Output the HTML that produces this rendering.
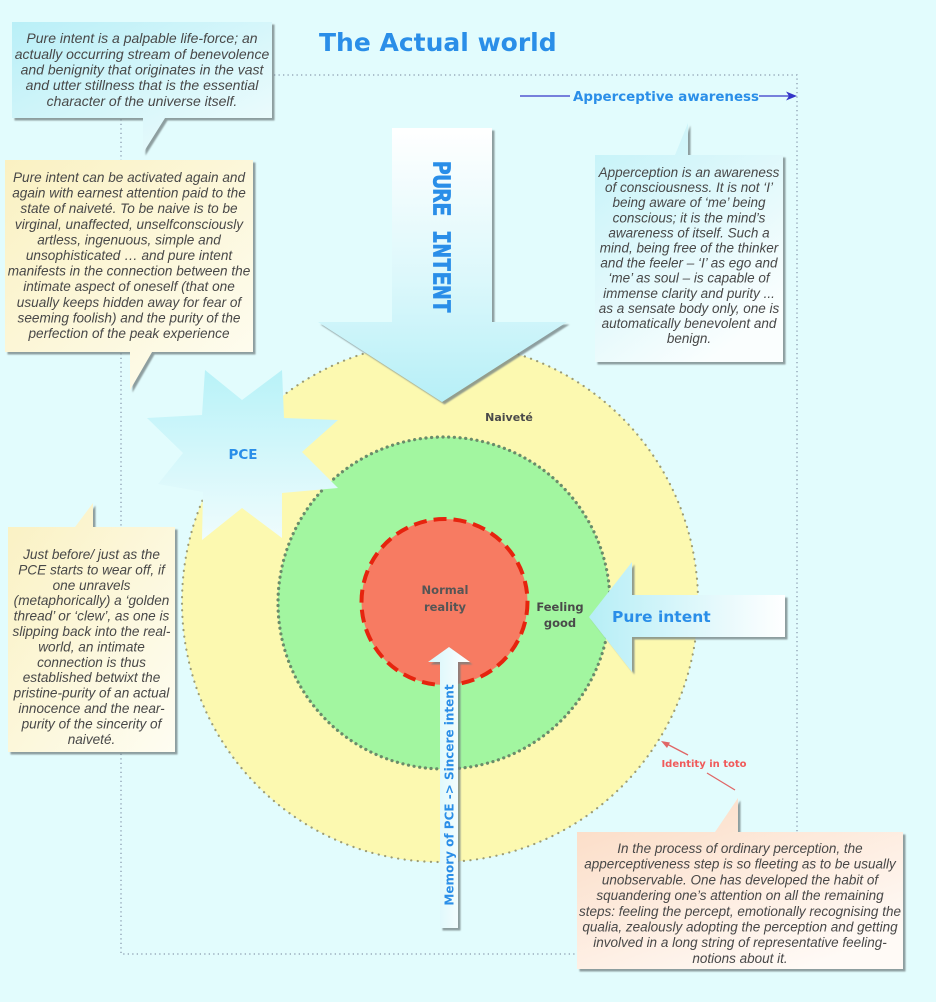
<!DOCTYPE html>
<html>
<head>
<meta charset="utf-8">
<style>
  html,body{margin:0;padding:0;background:#e2fcfd;}
  svg{display:block;}
  .it{font-family:"Liberation Sans",Arial,sans-serif;font-style:italic;fill:#484848;text-anchor:middle;}
  .bd{font-family:"DejaVu Sans",Verdana,"Liberation Sans",sans-serif;font-weight:bold;}
</style>
</head>
<body>
<svg width="936" height="1002" viewBox="0 0 936 1002" xmlns="http://www.w3.org/2000/svg">
  <defs>
    <filter id="sh" x="-10%" y="-10%" width="130%" height="130%">
      <feDropShadow dx="2.5" dy="2.5" stdDeviation="0.8" flood-color="#6f7f80" flood-opacity="0.75"/>
    </filter>
    <linearGradient id="gCyan" x1="0" y1="0" x2="1" y2="1">
      <stop offset="0" stop-color="#b9eff7"/>
      <stop offset="1" stop-color="#f2fdfd"/>
    </linearGradient>
    <linearGradient id="gCyan3" x1="0" y1="0" x2="0.6" y2="1">
      <stop offset="0" stop-color="#c2f2f8"/>
      <stop offset="1" stop-color="#fafefe"/>
    </linearGradient>
    <linearGradient id="gYel" x1="0" y1="0" x2="1" y2="1">
      <stop offset="0" stop-color="#faf1c2"/>
      <stop offset="1" stop-color="#fefdf2"/>
    </linearGradient>
    <linearGradient id="gPeach" x1="0" y1="0" x2="0.7" y2="1">
      <stop offset="0" stop-color="#fbdac2"/>
      <stop offset="1" stop-color="#fffaf6"/>
    </linearGradient>
    <linearGradient id="gDown" gradientUnits="userSpaceOnUse" x1="0" y1="128" x2="0" y2="402">
      <stop offset="0" stop-color="#ffffff"/>
      <stop offset="0.55" stop-color="#dcf8fb"/>
      <stop offset="1" stop-color="#b6eff7"/>
    </linearGradient>
    <linearGradient id="gLeft" gradientUnits="userSpaceOnUse" x1="589" y1="0" x2="785" y2="0">
      <stop offset="0" stop-color="#b6eef6"/>
      <stop offset="1" stop-color="#ffffff"/>
    </linearGradient>
    <linearGradient id="gUp" gradientUnits="userSpaceOnUse" x1="428" y1="0" x2="470" y2="0">
      <stop offset="0" stop-color="#d4f6fa"/>
      <stop offset="1" stop-color="#ffffff"/>
    </linearGradient>
    <linearGradient id="gStar" x1="0" y1="0" x2="0" y2="1">
      <stop offset="0" stop-color="#b8f2f8"/>
      <stop offset="1" stop-color="#effcfd"/>
    </linearGradient>
  </defs>

  <!-- background -->
  <rect x="0" y="0" width="936" height="1002" fill="#e2fcfd"/>

  <!-- dotted frame -->
  <rect x="121" y="75" width="676" height="879" fill="none" stroke="#8a9bb0" stroke-width="1.3" stroke-dasharray="1.3 3.2"/>

  <!-- circles -->
  <ellipse cx="440" cy="602" rx="258" ry="260" fill="#fcf9b0" stroke="#9c9c74" stroke-width="2.2" stroke-dasharray="0.1 6.5" stroke-linecap="round"/>
  <circle cx="444" cy="603" r="166" fill="#a2f6a0" stroke="#6a8c6a" stroke-width="3.2" stroke-dasharray="0.1 5.6" stroke-linecap="round"/>
  <circle cx="444.5" cy="602" r="83" fill="#f77b62" stroke="#e6240e" stroke-width="4" stroke-dasharray="13 7"/>

  <!-- PCE star -->
  <polygon points="205,370 242,400 282,370 284,418 338,420 302,452 338,488 282,493 282,538 242,508 202,540 203,492 158,484 183,453 147,418 202,415" fill="url(#gStar)"/>

  <!-- PURE INTENT down arrow -->
  <path d="M392,128 H492 V322 H567 L442,402 L318,322 H392 Z" fill="url(#gDown)" filter="url(#sh)"/>

  <!-- Pure intent left arrow -->
  <path d="M785,595 V637 H632 V672 L589,617 L632,562 V595 Z" fill="url(#gLeft)" filter="url(#sh)"/>

  <!-- Memory up arrow -->
  <path d="M440,928 V662 H428 L449,647 L470,662 H458 V928 Z" fill="url(#gUp)" filter="url(#sh)"/>

  <!-- labels -->
  <text class="bd" x="243" y="459" font-size="13.5" fill="#2a8ee8" text-anchor="middle">PCE</text>
  <text class="bd" x="509" y="421" font-size="11" fill="#4a4a4a" text-anchor="middle">Naiveté</text>
  <text class="bd" x="445" y="594" font-size="11.5" fill="#555555" text-anchor="middle">Normal</text>
  <text class="bd" x="445" y="611" font-size="11.5" fill="#555555" text-anchor="middle">reality</text>
  <text class="bd" x="560" y="611" font-size="11.5" fill="#4a4a4a" text-anchor="middle">Feeling</text>
  <text class="bd" x="560" y="627" font-size="11.5" fill="#4a4a4a" text-anchor="middle">good</text>
  <text class="bd" x="612" y="622" font-size="15.5" fill="#2a8ee8">Pure intent</text>

  <text transform="translate(442,237) rotate(90)" x="0" y="8.4" text-anchor="middle" font-family="'DejaVu Sans Mono','Liberation Mono',monospace" font-weight="bold" font-size="23" fill="#2a8ee8" stroke="#2a8ee8" stroke-width="0.8">PURE INTENT</text>

  <text class="bd" transform="translate(449,795) rotate(-90)" x="0" y="4.4" text-anchor="middle" font-size="12" fill="#2a8ee8">Memory of PCE -&gt; Sincere intent</text>

  <!-- Identity in toto -->
  <line x1="688" y1="755" x2="665" y2="743" stroke="#e06666" stroke-width="1.3"/>
  <polygon points="661,741 670,742.5 667,748" fill="#e06666"/>
  <line x1="707" y1="773" x2="735" y2="790" stroke="#e06666" stroke-width="1.3"/>
  <text class="bd" x="704" y="767" font-size="10" fill="#f05a5a" text-anchor="middle">Identity in toto</text>

  <!-- Callout 1 (top-left cyan) -->
  <path d="M12,22 H272 V118 H165 L143,153 V118 H12 Z" fill="url(#gCyan)" filter="url(#sh)"/>
  <g class="it" font-size="14">
    <text x="142" y="43">Pure intent is a palpable life-force; an</text>
    <text x="142" y="59">actually occurring stream of benevolence</text>
    <text x="142" y="74.5">and benignity that originates in the vast</text>
    <text x="142" y="90">and utter stillness that is the essential</text>
    <text x="142" y="106">character of the universe itself.</text>
  </g>

  <!-- Callout 2 (left yellow) -->
  <path d="M5,160 H253 V352 H152 L130,390 V352 H5 Z" fill="url(#gYel)" filter="url(#sh)"/>
  <g class="it" font-size="13.6">
    <text x="129" y="182">Pure intent can be activated again and</text>
    <text x="129" y="197.6">again with earnest attention paid to the</text>
    <text x="129" y="213.2">state of naiveté. To be naive is to be</text>
    <text x="129" y="228.8">virginal, unaffected, unselfconsciously</text>
    <text x="129" y="244.4">artless, ingenuous, simple and</text>
    <text x="129" y="260">unsophisticated … and pure intent</text>
    <text x="129" y="275.6">manifests in the connection between the</text>
    <text x="129" y="291.2">intimate aspect of oneself (that one</text>
    <text x="129" y="306.8">usually keeps hidden away for fear of</text>
    <text x="129" y="322.4">seeming foolish) and the purity of the</text>
    <text x="129" y="338">perfection of the peak experience</text>
  </g>

  <!-- Callout 3 (right cyan) -->
  <path d="M595,155 H675 L688,123 V155 H783 V362 H595 Z" fill="url(#gCyan3)" filter="url(#sh)"/>
  <g class="it" font-size="13.5">
    <text x="689" y="177">Apperception is an awareness</text>
    <text x="689" y="192.1">of consciousness. It is not ‘I’</text>
    <text x="689" y="207.2">being aware of ‘me’ being</text>
    <text x="689" y="222.3">conscious; it is the mind’s</text>
    <text x="689" y="237.4">awareness of itself. Such a</text>
    <text x="689" y="252.5">mind, being free of the thinker</text>
    <text x="689" y="267.6">and the feeler – ‘I’ as ego and</text>
    <text x="689" y="282.7">‘me’ as soul – is capable of</text>
    <text x="689" y="297.8">immense clarity and purity ...</text>
    <text x="689" y="312.9">as a sensate body only, one is</text>
    <text x="689" y="328">automatically benevolent and</text>
    <text x="689" y="343.1">benign.</text>
  </g>

  <!-- Callout 5 (bottom-left yellow) -->
  <path d="M8,527 H75 L93,503 V527 H175 V752 H8 Z" fill="url(#gYel)" filter="url(#sh)"/>
  <g class="it" font-size="13.6">
    <text x="91.5" y="559">Just before/ just as the</text>
    <text x="91.5" y="574.4">PCE starts to wear off, if</text>
    <text x="91.5" y="589.8">one unravels</text>
    <text x="91.5" y="605.2">(metaphorically) a ‘golden</text>
    <text x="91.5" y="620.6">thread’ or ‘clew’, as one is</text>
    <text x="91.5" y="636">slipping back into the real-</text>
    <text x="91.5" y="651.4">world, an intimate</text>
    <text x="91.5" y="666.8">connection is thus</text>
    <text x="91.5" y="682.2">established betwixt the</text>
    <text x="91.5" y="697.6">pristine-purity of an actual</text>
    <text x="91.5" y="713">innocence and the near-</text>
    <text x="91.5" y="728.4">purity of the sincerity of</text>
    <text x="91.5" y="743.8">naiveté.</text>
  </g>

  <!-- Callout 4 (bottom-right peach) -->
  <path d="M577,832 H715 L738,798 V832 H903 V969 H577 Z" fill="url(#gPeach)" filter="url(#sh)"/>
  <g class="it" font-size="13.5">
    <text x="740" y="853">In the process of ordinary perception, the</text>
    <text x="740" y="868.7">apperceptiveness step is so fleeting as to be usually</text>
    <text x="740" y="884.4">unobservable. One has developed the habit of</text>
    <text x="740" y="900.1">squandering one’s attention on all the remaining</text>
    <text x="740" y="915.8">steps: feeling the percept, emotionally recognising the</text>
    <text x="740" y="931.5">qualia, zealously adopting the perception and getting</text>
    <text x="740" y="947.2">involved in a long string of representative feeling-</text>
    <text x="740" y="962.9">notions about it.</text>
  </g>

  <!-- Title -->
  <text class="bd" x="319" y="51" font-size="25" fill="#2a8ee8">The Actual world</text>

  <!-- Apperceptive awareness -->
  <line x1="520" y1="96" x2="570" y2="96" stroke="#3535c8" stroke-width="1.2"/>
  <line x1="759" y1="96" x2="790" y2="96" stroke="#3535c8" stroke-width="1.2"/>
  <polygon points="797,96 786,91.5 789,96 786,100.5" fill="#3535c8"/>
  <text class="bd" x="573" y="101" font-size="13.4" fill="#2a8ee8">Apperceptive awareness</text>
</svg>
</body>
</html>
